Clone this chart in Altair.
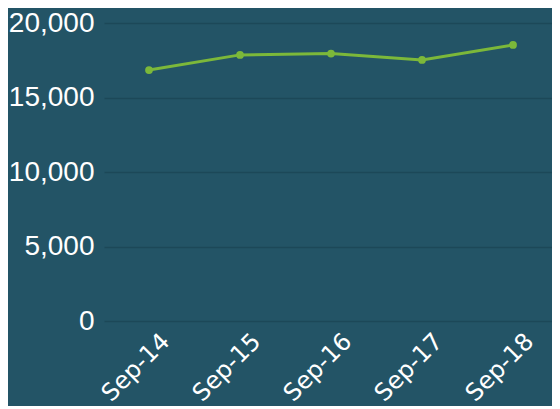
import altair as alt
import pandas as pd

months = ["Sep-14", "Sep-15", "Sep-16", "Sep-17", "Sep-18"]
values = [16840, 17860, 17950, 17520, 18530]

df = pd.DataFrame({"month": months, "value": values})

BG = "#235466"

chart = alt.Chart(df).mark_line(
    color="#7cb83a", strokeWidth=3,
    point=alt.OverlayMarkDef(color="#7cb83a", size=60, filled=True, opacity=1)
).encode(
    x=alt.X("month:O", sort=months, title=None,
            scale=alt.Scale(type="point", padding=0.4615, align=0.536),
            axis=alt.Axis(labelAngle=-45, labelAlign="right", labelBaseline="top",
                          labelFont="DejaVu Sans", labelFontSize=24, labelColor="white",
                          domain=False, ticks=False, labelPadding=8, labelOffset=8,
                          grid=False)),
    y=alt.Y("value:Q", title=None,
            scale=alt.Scale(domain=[0, 20000]),
            axis=alt.Axis(values=[0, 5000, 10000, 15000, 20000], format=",.0f",
                          labelFont="Liberation Sans", labelFontSize=28, labelColor="white",
                          domain=False, ticks=False, labelPadding=10,
                          gridColor="#1c4858", gridWidth=1.5)),
).properties(
    width=448, height=298, background=BG,
    padding={"top": 1, "left": 0, "right": 0, "bottom": 0}
).configure_view(stroke=None)

chart.save("out.html", embed_options={"renderer": "svg", "actions": False})
